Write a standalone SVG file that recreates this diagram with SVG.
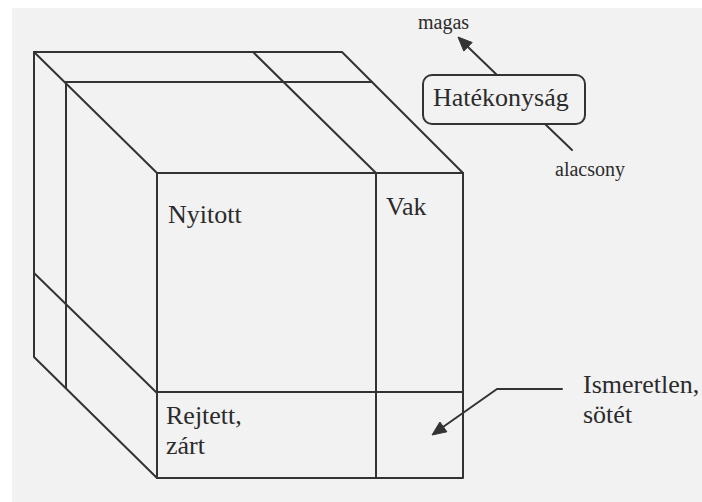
<svg xmlns="http://www.w3.org/2000/svg" width="702" height="502" viewBox="0 0 702 502">
  <style>
    .ln { fill: none; stroke: #333; stroke-width: 2; stroke-linecap: round; stroke-linejoin: round; }
    .head { fill: #333; stroke: #333; stroke-width: 1; stroke-linejoin: round; }
    .lbl { font-family: 'Liberation Serif', 'DejaVu Serif', 'Times New Roman', serif; font-size: 26px; fill: #2b2b2b; }
    .sm { font-family: 'Liberation Serif', 'DejaVu Serif', 'Times New Roman', serif; font-size: 20px; fill: #2b2b2b; }
  </style>

  <rect x="0" y="0" width="702" height="502" fill="#ffffff"/>
  <rect x="12" y="8" width="690" height="494" fill="#f2f2f2"/>

  <!-- cube outline and section lines -->
  <g id="cube">
    <!-- top face -->
    <path class="ln" d="M34,52 L342,52 L463,173"/>
    <path class="ln" d="M34,52 L157,173"/>
    <path class="ln" d="M253,52 L376,173"/>
    <path class="ln" d="M66,82 L372,82"/>
    <!-- left face -->
    <path class="ln" d="M34,52 L34,357 L157,478"/>
    <path class="ln" d="M66,82 L66,388"/>
    <path class="ln" d="M34,273 L157,393"/>
    <!-- front face -->
    <rect class="ln" x="157" y="173" width="306" height="305"/>
    <path class="ln" d="M157,392 L463,392"/>
    <path class="ln" d="M376,173 L376,478"/>
  </g>

  <g id="nyitott"><text class="lbl" x="168" y="223">Nyitott</text></g>
  <g id="vak"><text class="lbl" x="386" y="215">Vak</text></g>
  <g id="rejtett">
    <text class="lbl" x="166" y="424">Rejtett,</text>
    <text class="lbl" x="166" y="454">zárt</text>
  </g>
  <g id="ismeretlen">
    <text class="lbl" x="583" y="393">Ismeretlen,</text>
    <text class="lbl" x="583" y="423">sötét</text>
  </g>

  <g id="hatekonysag">
    <rect class="ln" x="423" y="75" width="162" height="49" rx="9"/>
    <text class="lbl" x="433" y="106">Hatékonyság</text>
  </g>
  <g id="magas"><text class="sm" x="418" y="29">magas</text></g>
  <g id="alacsony"><text class="sm" x="555" y="176">alacsony</text></g>

  <g id="connectors">
    <!-- efficiency axis: high (up-left) to low (down-right) -->
    <path class="ln" d="M497,75 L468,47"/>
    <polygon class="head" points="458,37 472.2,42.5 463.8,51.1"/>
    <path class="ln" d="M545,124 L572,150"/>
    <!-- pointer to the unknown cell -->
    <path class="ln" d="M562,389 L497,389 L443,427"/>
    <polygon class="head" points="432,435 446.9,431.8 439.9,422"/>
  </g>
</svg>
